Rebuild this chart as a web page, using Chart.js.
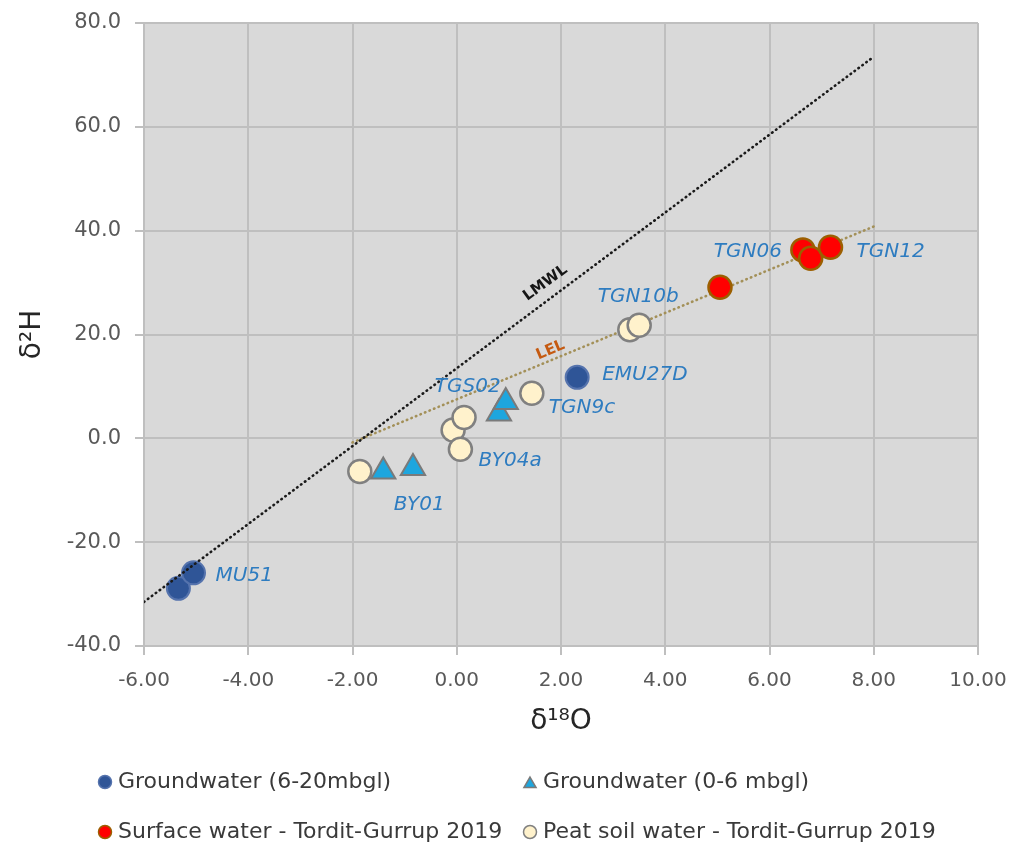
<!DOCTYPE html>
<html>
<head>
<meta charset="utf-8">
<script src="https://cdn.jsdelivr.net/npm/chart.js@4.4.1/dist/chart.umd.min.js"></script>
<style>
  html, body { margin: 0; padding: 0; background: #ffffff; }
  canvas { display: block; }
</style>
</head>
<body>
<canvas id="isotopes" width="1013" height="844"></canvas>
<script>
// Stable isotope values (δ18O, δ2H) per water type
const gwDeepX    = [-5.34, -5.05, 2.31];
const gwDeepY    = [-28.9, -25.9, 11.75];
const gwShallowX = [-1.41, -0.84, 0.81, 0.94];
const gwShallowY = [-6.4, -5.7, 4.8, 7.0];
const surfaceX   = [5.05, 6.64, 6.79, 7.17];
const surfaceY   = [29.1, 36.3, 34.7, 36.8];
const peatX      = [-1.86, -0.07, 0.07, 0.14, 1.44, 3.32, 3.50];
const peatY      = [-6.4, 1.6, -2.1, 4.0, 8.7, 20.9, 21.8];

// Local meteoric water line and local evaporation line end points
const lmwlX = [-6, 8];
const lmwlY = [-31.5, 73.5];
const lelX  = [-2, 8];
const lelY  = [-0.8, 40.8];

// Axis tick labels
const xTickLabels = ['-6.00', '-4.00', '-2.00', '0.00', '2.00', '4.00', '6.00', '8.00', '10.00'];
const yTickLabels = ['-40.0', '-20.0', '0.0', '20.0', '40.0', '60.0', '80.0'];

// Series names
const seriesNames = [
  'Groundwater (6-20mbgl)',
  'Groundwater (0-6 mbgl)',
  'Surface water - Tordit-Gurrup 2019',
  'Peat soil water - Tordit-Gurrup 2019'
];

// Sample ids written beside their points (series key, point index)
const sampleNames = [
  { text: 'MU51',   set: 'gwDeep',    i: 1 },
  { text: 'EMU27D', set: 'gwDeep',    i: 2 },
  { text: 'BY01',   set: 'gwShallow', i: 0 },
  { text: 'TGS02',  set: 'gwShallow', i: 3 },
  { text: 'BY04a',  set: 'peat',      i: 2 },
  { text: 'TGN9c',  set: 'peat',      i: 4 },
  { text: 'TGN10b', set: 'peat',      i: 6 },
  { text: 'TGN06',  set: 'surface',   i: 1 },
  { text: 'TGN12',  set: 'surface',   i: 3 }
];
// Where each sample id sits relative to its point (pixels)
const samplePlacement = {
  MU51:   { dx: 22,  dy: 3,   align: 'left' },
  EMU27D: { dx: 25,  dy: -3,  align: 'left' },
  BY01:   { dx: 36,  dy: 33,  align: 'center' },
  TGS02:  { dx: -38, dy: -15, align: 'center' },
  BY04a:  { dx: 18,  dy: 12,  align: 'left' },
  TGN9c:  { dx: 17,  dy: 15,  align: 'left' },
  TGN10b: { dx: -1,  dy: -28, align: 'center' },
  TGN06:  { dx: -21, dy: 2,   align: 'right' },
  TGN12:  { dx: 26,  dy: 5,   align: 'left' }
};

// Names written along the two lines (data position, rotation)
const lineNames = [
  { text: 'LMWL', x: 1.7, y: 29.9, angle: -36, color: '#161616' },
  { text: 'LEL',  x: 1.8, y: 17.0, angle: -23, color: '#c55a11' }
];

const toPoints = (xs, ys) => xs.map((x, i) => ({ x: x, y: ys[i] }));

const FONT = "'DejaVu Sans', 'Liberation Sans', sans-serif";

// Let the layout padding alone decide the plot edges
const noOverhang = scale => {
  scale.paddingTop = 0;
  scale.paddingBottom = 0;
  scale.paddingLeft = 0;
  scale.paddingRight = 0;
};

// Grey plotting area behind the grid
const plotBackground = {
  id: 'plotBackground',
  beforeDraw(chart) {
    const { ctx, chartArea: a } = chart;
    ctx.save();
    ctx.fillStyle = '#d9d9d9';
    ctx.fillRect(a.left, a.top, a.right - a.left, a.bottom - a.top);
    ctx.restore();
  }
};

// Sample ids and line names
const annotations = {
  id: 'annotations',
  afterDatasetsDraw(chart) {
    const ctx = chart.ctx;
    ctx.save();
    ctx.font = 'italic 20px ' + FONT;
    ctx.fillStyle = '#2e7cc0';
    ctx.textBaseline = 'middle';
    sampleNames.forEach(s => {
      const di = chart.data.datasets.findIndex(d => d.key === s.set);
      const el = chart.getDatasetMeta(di).data[s.i];
      const p = samplePlacement[s.text];
      ctx.textAlign = p.align;
      ctx.fillText(s.text, el.x + p.dx, el.y + p.dy);
    });
    const xs = chart.scales.x, ys = chart.scales.y;
    lineNames.forEach(l => {
      ctx.save();
      ctx.translate(xs.getPixelForValue(l.x), ys.getPixelForValue(l.y));
      ctx.rotate(l.angle * Math.PI / 180);
      ctx.font = 'bold 15px ' + FONT;
      ctx.fillStyle = l.color;
      ctx.textAlign = 'center';
      ctx.textBaseline = 'middle';
      ctx.fillText(l.text, 0, 0);
      ctx.restore();
    });
    ctx.restore();
  }
};

// Two-column legend under the plot
const gridLegend = {
  id: 'gridLegend',
  afterDraw(chart) {
    const ctx = chart.ctx;
    const cols = [105, 530];
    const rows = [782, 832];
    const items = chart.data.datasets.filter(d => d.legendRank !== undefined)
      .sort((a, b) => a.legendRank - b.legendRank);
    ctx.save();
    ctx.font = '22px ' + FONT;
    ctx.fillStyle = '#3a3a3a';
    ctx.textBaseline = 'middle';
    ctx.textAlign = 'left';
    items.forEach((d, k) => {
      const cx = cols[k % 2];
      const cy = rows[Math.floor(k / 2)];
      ctx.save();
      ctx.fillStyle = d.backgroundColor;
      ctx.strokeStyle = d.borderColor;
      ctx.lineWidth = 1.5;
      Chart.helpers.drawPoint(ctx, {
        pointStyle: d.pointStyle,
        radius: d.pointStyle === 'triangle' ? 7 : 6.5,
        rotation: 0,
        borderWidth: 1.5
      }, cx, cy + (d.pointStyle === 'triangle' ? 2 : 0));
      ctx.restore();
      ctx.fillText(d.label, cx + 13, cy);
    });
    ctx.restore();
  }
};

new Chart(document.getElementById('isotopes'), {
  type: 'scatter',
  data: {
    datasets: [
      {
        label: 'LMWL', key: 'lmwl', order: 0,
        data: toPoints(lmwlX, lmwlY),
        showLine: true, pointRadius: 0,
        borderColor: '#1a1a1a', borderWidth: 2.6,
        borderDash: [0.5, 4.4], borderCapStyle: 'round'
      },
      {
        label: seriesNames[1], key: 'gwShallow', order: 1, legendRank: 1,
        data: toPoints(gwShallowX, gwShallowY),
        pointStyle: 'triangle', pointRadius: 14,
        backgroundColor: '#1ea6de', borderColor: '#7a7a7a', borderWidth: 2
      },
      {
        label: seriesNames[0], key: 'gwDeep', order: 2, legendRank: 0,
        data: toPoints(gwDeepX, gwDeepY),
        pointStyle: 'circle', pointRadius: 11.5,
        backgroundColor: '#2f5597', borderColor: '#5573ad', borderWidth: 2
      },
      {
        label: seriesNames[2], key: 'surface', order: 3, legendRank: 2,
        data: toPoints(surfaceX, surfaceY),
        pointStyle: 'circle', pointRadius: 11.5,
        backgroundColor: '#ff0000', borderColor: '#9c5f00', borderWidth: 2.5
      },
      {
        label: seriesNames[3], key: 'peat', order: 4, legendRank: 3,
        data: toPoints(peatX, peatY),
        pointStyle: 'circle', pointRadius: 11.5,
        backgroundColor: '#fff2cc', borderColor: '#808080', borderWidth: 2.5
      },
      {
        label: 'LEL', key: 'lel', order: 5,
        data: toPoints(lelX, lelY),
        showLine: true, pointRadius: 0,
        borderColor: '#a39058', borderWidth: 2.6,
        borderDash: [0.5, 4.4], borderCapStyle: 'round'
      }
    ]
  },
  options: {
    responsive: false,
    animation: false,
    events: [],
    layout: { padding: { left: 0, top: 23, right: 35, bottom: 98 } },
    plugins: {
      legend: { display: false },
      tooltip: { enabled: false }
    },
    scales: {
      x: {
        type: 'linear', min: -6, max: 10,
        afterFit(scale) { scale.height = 100; noOverhang(scale); },
        ticks: {
          stepSize: 2, padding: 14, color: '#595959',
          font: { family: FONT, size: 20 },
          callback: (v, i) => xTickLabels[i]
        },
        grid: { color: '#bfbfbf', lineWidth: 2, tickLength: 9, tickColor: '#bfbfbf' },
        border: { color: '#bfbfbf', width: 2 },
        title: {
          display: true, text: 'δ¹⁸O', color: '#262626',
          font: { family: FONT, size: 28 }, padding: { top: 0, bottom: 7 }
        }
      },
      y: {
        type: 'linear', min: -40, max: 80,
        afterFit(scale) { scale.width = 144; noOverhang(scale); },
        ticks: {
          stepSize: 20, padding: 14, color: '#595959',
          font: { family: FONT, size: 21 },
          callback: (v, i) => yTickLabels[i]
        },
        grid: { color: '#bfbfbf', lineWidth: 2, tickLength: 9, tickColor: '#bfbfbf' },
        border: { color: '#bfbfbf', width: 2 },
        title: {
          display: true, text: 'δ²H', color: '#262626',
          font: { family: FONT, size: 28 }, padding: { top: 16, bottom: 0 }
        }
      }
    }
  },
  plugins: [plotBackground, annotations, gridLegend]
});
</script>
</body>
</html>
